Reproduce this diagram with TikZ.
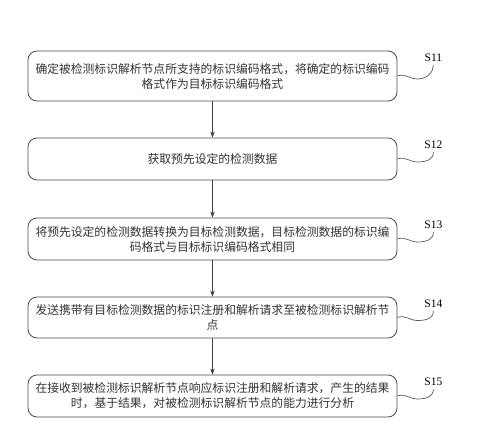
\documentclass[tikz,border=0pt]{standalone}
\usepackage{fontspec}
\setmainfont{Liberation Serif}
\newfontfamily\cjk{Noto Sans CJK SC}
\usetikzlibrary{arrows.meta,calc}

\begin{document}
\begin{tikzpicture}[
  x=1pt,y=1pt,
  >={Stealth[length=6pt,width=4.5pt]},
  stepbox/.style={draw=black!70,line width=.8pt,rounded corners=9pt,
    minimum width=369pt,inner sep=2pt,align=center,text=black!80,
    font=\cjk\fontsize{11.8}{15}\selectfont},
  tag/.style={font=\fontsize{11.5}{13}\selectfont},
  wave/.style={draw=black!65,line width=.7pt}
]
\useasboundingbox (0,0) rectangle (496,-439);
\node[stepbox,minimum height=50pt] (s11) at (212.5,-76)
  {确定被检测标识解析节点所支持的标识编码格式，将确定的标识编码\\格式作为目标标识编码格式};
\node[stepbox,minimum height=42pt] (s12) at (212.5,-159)
  {获取预先设定的检测数据};
\node[stepbox,minimum height=42pt] (s13) at (212.5,-239)
  {将预先设定的检测数据转换为目标检测数据，目标检测数据的标识编\\码格式与目标标识编码格式相同};
\node[stepbox,minimum height=41pt] (s14) at (212.5,-317.5)
  {发送携带有目标检测数据的标识注册和解析请求至被检测标识解析节\\点};
\node[stepbox,minimum height=42pt] (s15) at (212.5,-396)
  {在接收到被检测标识解析节点响应标识注册和解析请求，产生的结果\\时，基于结果，对被检测标识解析节点的能力进行分析};
% step arrows
\draw[->,black!75,line width=.8pt] (s11) -- (s12);
\draw[->,black!75,line width=.8pt] (s12) -- (s13);
\draw[->,black!75,line width=.8pt] (s13) -- (s14);
\draw[->,black!75,line width=.8pt] (s14) -- (s15);
% step tags
\foreach \n in {11,...,15} {
  \node[tag] (l\n) at ($(s\n.north east)+(36,-7)$) {S\n};
  \draw[wave] (s\n.east) .. controls +(8,3) and +(-8,0) .. ++(20,-3)
    .. controls +(10,0) and +(0,-7) .. (l\n.south);
}
\end{tikzpicture}
\end{document}
